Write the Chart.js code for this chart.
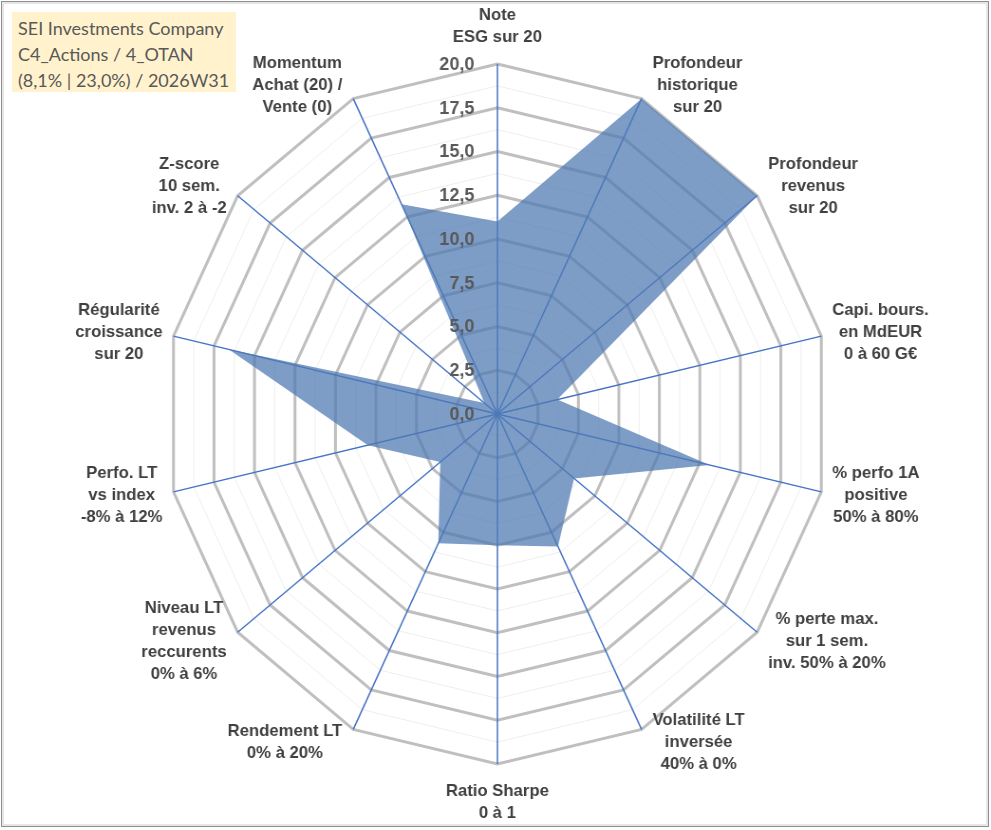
<!DOCTYPE html>
<html lang="fr">
<head>
<meta charset="utf-8">
<title>SEI Investments Company - radar</title>
<script src="https://cdn.jsdelivr.net/npm/chart.js@4.4.1/dist/chart.umd.min.js"></script>
<style>
  html, body { margin: 0; padding: 0; background: #fff; }
  #wrap { position: relative; width: 991px; height: 830px; overflow: hidden; }
  #chart { position: absolute; left: 0; top: 0; }
  #frame { position: absolute; left: 1px; top: 1px; width: 986px; height: 824px;
           border: 1px solid #8f8f8f; box-shadow: inset 0 0 0 2px #e6e6e6; pointer-events: none; }
  #title { position: absolute; left: 12px; top: 12px; width: 224px; height: 80px; box-sizing: border-box;
           padding: 3px 0 0 6px; background: #fff2cc; color: #595959;
           font: 18px Lato, "Open Sans", sans-serif; line-height: 26px; white-space: nowrap; }
</style>
</head>
<body>
<div id="wrap">
  <canvas id="chart" width="1044" height="830" style="width:991px;height:830px"></canvas>
  <div id="frame"></div>
  <div id="title">SEI Investments Company<br>C4_Actions / 4_OTAN<br>(8,1% | 23,0%) / 2026W31</div>
</div>
<script>
// axes of the radar, clockwise from the top
const categories = [
    ['Note', 'ESG sur 20'],
    ['Profondeur', 'historique', 'sur 20'],
    ['Profondeur', 'revenus', 'sur 20'],
    ['Capi. bours.', 'en MdEUR', '0 à 60 G€'],
    ['% perfo 1A', 'positive', '50% à 80%'],
    ['% perte max.', 'sur 1 sem.', 'inv. 50% à 20%'],
    ['Volatilité LT', 'inversée', '40% à 0%'],
    ['Ratio Sharpe', '0 à 1'],
    ['Rendement LT', '0% à 20%'],
    ['Niveau LT', 'revenus', 'reccurents', '0% à 6%'],
    ['Perfo. LT', 'vs index', '-8% à 12%'],
    ['Régularité', 'croissance', 'sur 20'],
    ['Z-score', '10 sem.', 'inv. 2 à -2'],
    ['Momentum', 'Achat (20) /', 'Vente (0)']
];

// scores out of 20
const scores = [11.0, 20.0, 20.0, 3.7, 13.1, 5.9, 8.4, 7.5, 8.2, 4.4, 8.0, 16.6, 1.0, 13.3];

// scale: 0 to 20, labelled every 2,5 with a light line in between
const scaleMin = 0;
const scaleMax = 20;
const gridStep = 1.25;
const labelStep = 2.5;

// the picture is a little narrower than tall, so the canvas is drawn wider and squeezed by css
const SQUISH = 991 / 1044;
const LINE_H = 22;

const labelPlugin = {
    id: 'excelLabels',
    afterDraw(chart) {
        const scale = chart.scales.r;
        const ctx = chart.ctx;
        ctx.save();
        ctx.textBaseline = 'middle';

        // values along the vertical axis, left of it
        ctx.font = 'bold 18px "Liberation Sans", Arial, sans-serif';
        ctx.fillStyle = '#595959';
        ctx.textAlign = 'right';
        scale.ticks.forEach((t) => {
            const k = t.value / labelStep;
            if (Math.abs(k - Math.round(k)) > 1e-6) return;
            const y = scale.yCenter - scale.getDistanceFromCenterForValue(t.value);
            ctx.save();
            ctx.translate(scale.xCenter - 23 / SQUISH, y + 1);
            ctx.scale(1 / SQUISH, 1);
            ctx.fillText(t.value.toFixed(1).replace('.', ','), 0, 0);
            ctx.restore();
        });

        // axis names, placed the way Excel does
        ctx.font = 'bold 16.7px "Liberation Sans", Arial, sans-serif';
        ctx.fillStyle = '#404040';
        ctx.textAlign = 'center';
        chart.data.labels.forEach((lines, i) => {
            const end = scale.getPointPosition(i, scale.drawingArea);
            const a = scale.getIndexAngle(i);
            const sin = Math.sin(a), cos = Math.cos(a);
            const w = Math.max(...lines.map(l => ctx.measureText(l).width)) / SQUISH;
            const h = lines.length * LINE_H;
            let cx, cy;
            if (Math.abs(sin) < 0.01) {
                cx = end.x;
                cy = end.y - cos * (16 + h / 2);
            } else {
                cx = end.x + Math.sign(sin) * (11 / SQUISH + w / 2);
                cy = end.y - cos * 15;
            }
            lines.forEach((line, k) => {
                ctx.save();
                ctx.translate(cx, cy - h / 2 + LINE_H * (k + 0.5));
                ctx.scale(1 / SQUISH, 1);
                ctx.fillText(line, 0, 0);
                ctx.restore();
            });
        });
        ctx.restore();
    }
};

const canvas = document.getElementById('chart').getContext('2d');

const chart = new Chart(canvas, {
    type: 'radar',
    data: {
        labels: categories,
        datasets: [{
            data: scores,
            backgroundColor: 'rgba(79, 123, 180, 0.74)',
            borderWidth: 0,
            pointRadius: 0,
            fill: 'start'
        }]
    },
    options: {
        responsive: false,
        animation: false,
        events: [],
        layout: {
            padding: { left: 100, right: 95, top: 64, bottom: 66 }
        },
        plugins: {
            legend: { display: false },
            tooltip: { enabled: false }
        },
        scales: {
            r: {
                min: scaleMin,
                max: scaleMax,
                ticks: { stepSize: gridStep, display: false },
                grid: {
                    color: (c) => c.index % 2 === 0 ? '#bfbfbf' : '#eeeeee',
                    lineWidth: (c) => c.index % 2 === 0 ? 3 : 1
                },
                angleLines: { color: '#4472c4', lineWidth: 1.5 },
                pointLabels: { display: false }
            }
        }
    },
    plugins: [labelPlugin]
});
</script>
</body>
</html>
